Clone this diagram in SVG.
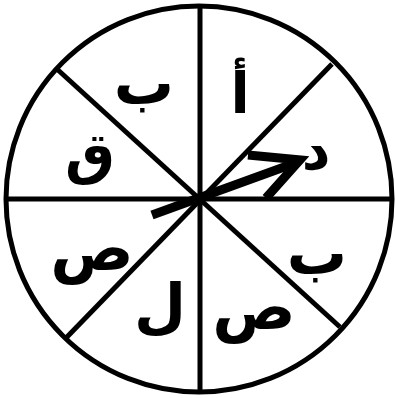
<svg xmlns="http://www.w3.org/2000/svg" width="395" height="398" viewBox="0 0 395 398">
<style>
.ln{stroke:#000;stroke-width:5;fill:none}
.lt{font-family:"DejaVu Sans",sans-serif;font-weight:bold;font-size:56px;fill:#000;text-anchor:middle}
.b{font-size:60px}
.ar{stroke:#000;stroke-width:9;fill:none;stroke-linejoin:miter;stroke-miterlimit:10}
</style>
<rect width="395" height="398" fill="#fff"/>
<g id="wheel">
<circle class="ln" cx="199" cy="199" r="193"/>
</g>
<g id="connectors">
<line class="ln" x1="200" y1="6" x2="200" y2="392"/>
<line class="ln" x1="6" y1="199" x2="392" y2="199"/>
<line class="ln" x1="58" y1="70" x2="340" y2="327"/>
<line class="ln" x1="332" y1="64" x2="66" y2="338"/>
</g>
<g id="labels">
<text class="lt" x="240" y="113">أ</text>
<text class="lt b" x="144" y="104">ب</text>
<text class="lt" x="90" y="173">ق</text>
<text class="lt" x="316" y="169">د</text>
<text class="lt" x="92" y="270" style="font-size:62px">ص</text>
<text class="lt b" x="317" y="274">ب</text>
<text class="lt" x="254" y="329" style="font-size:62px">ص</text>
<text class="lt" x="160" y="327" style="font-size:60px">ل</text>
</g>
<g id="arrow">
<line class="ar" x1="152" y1="215" x2="298" y2="162"/>
<polyline class="ar" points="248,155 300,160 266,198"/>
</g>
</svg>
